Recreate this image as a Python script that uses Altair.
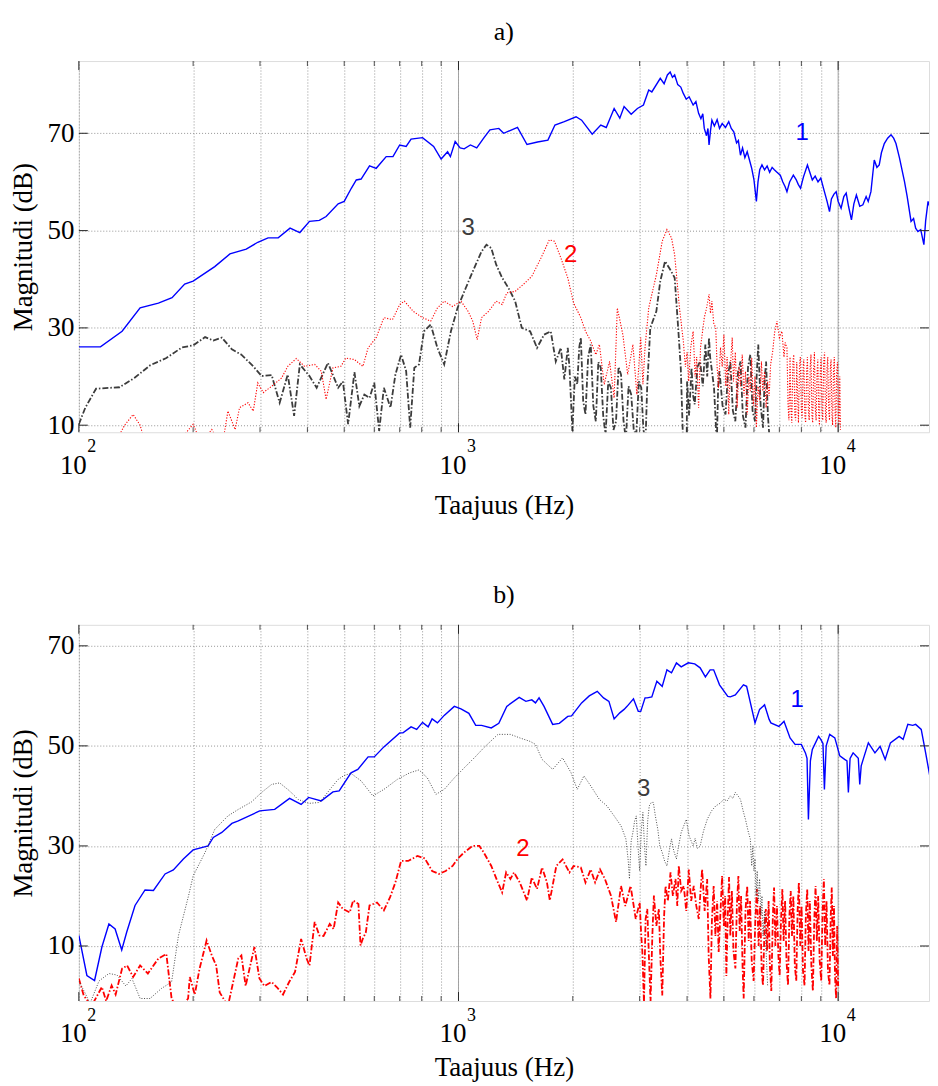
import altair as alt
import pandas as pd

# ---------------- data (frequency Hz, magnitude dB) ----------------
# Panel a) curve 1 (blue, solid)
A1 = [(100, 26.1), (114, 26.1), (130, 29.3), (145, 34.1), (162, 35.1), (176, 36.2), (190, 39.0),
      (200, 39.6), (228, 42.6), (250, 45.2), (276, 46.2), (296, 47.6), (315, 48.5), (335, 48.5),
      (360, 50.5), (382, 49.6), (405, 51.9), (430, 52.1), (448, 52.9), (482, 55.5), (500, 56.0),
      (522, 58.7), (538, 60.4), (554, 60.6), (583, 63.3), (607, 62.8), (645, 65.2), (672, 65.2),
      (700, 67.6), (728, 67.3), (750, 68.8), (804, 69.1), (860, 67.3), (900, 64.7), (936, 66.2),
      (952, 65.2), (980, 68.3), (1010, 67.0), (1035, 66.8), (1075, 67.6), (1117, 67.0), (1165, 69.0),
      (1210, 70.7), (1277, 71.0), (1315, 70.0), (1430, 71.2), (1515, 67.7), (1615, 68.2), (1720, 68.6),
      (1795, 71.7), (1900, 72.4), (2040, 73.4), (2110, 72.7), (2250, 69.8), (2370, 71.7), (2450, 71.2),
      (2570, 75.1), (2660, 73.1), (2730, 75.5), (2850, 73.9), (2960, 75.1), (3070, 75.8), (3170, 78.9),
      (3230, 78.5), (3400, 81.3), (3480, 80.2), (3550, 82.0), (3610, 82.6), (3660, 81.5), (3710, 82.0),
      (3780, 80.0), (3850, 79.5), (3910, 78.2), (3980, 77.0), (4050, 77.5), (4150, 75.8), (4220, 76.5),
      (4290, 74.1), (4350, 73.0), (4400, 74.0), (4440, 71.0), (4500, 69.5), (4540, 71.0), (4570, 67.6),
      (4610, 70.5), (4650, 72.7), (4720, 71.5), (4800, 72.8), (4870, 71.0), (4950, 72.0), (5050, 71.2),
      (5150, 72.4), (5230, 71.0), (5310, 70.3), (5400, 68.0), (5460, 68.5), (5530, 65.5), (5600, 67.0),
      (5680, 65.0), (5760, 66.2), (5840, 64.5), (5920, 62.8), (6000, 60.5), (6090, 56.0), (6150, 60.0),
      (6215, 62.5), (6300, 63.5), (6400, 62.5), (6500, 63.3), (6600, 62.0), (6700, 63.0), (6790, 62.5),
      (6900, 62.0), (7040, 61.4), (7150, 60.0), (7250, 59.0), (7330, 58.0), (7450, 60.0), (7620, 61.4),
      (7750, 60.5), (7850, 59.5), (7960, 58.7), (8100, 61.0), (8300, 63.5), (8420, 62.0), (8550, 60.4),
      (8700, 61.2), (8850, 60.0), (9000, 60.8), (9200, 58.0), (9350, 56.0), (9490, 53.9), (9600, 56.5),
      (9750, 57.5), (9880, 58.0), (10000, 56.0), (10180, 54.6), (10350, 57.0), (10500, 57.7),
      (10650, 55.0), (10840, 52.2), (11000, 55.5), (11170, 57.3), (11400, 55.0), (11620, 55.3),
      (11850, 57.0), (12000, 56.0), (12200, 58.0), (12350, 62.0), (12450, 64.5), (12650, 63.0),
      (12830, 63.5), (13000, 66.0), (13230, 67.9), (13500, 69.0), (13780, 69.7), (14000, 69.0),
      (14200, 67.9), (14500, 65.0), (14950, 60.1), (15200, 57.0), (15560, 51.9), (15800, 52.5),
      (16000, 50.5), (16220, 49.8), (16500, 50.2), (16820, 47.1), (17000, 52.0), (17250, 56.0),
      (17500, 54.5), (17790, 53.9), (18100, 52.0), (18500, 50.5)]

# Panel a) curve 3 (dark grey, dash-dot)
A3 = [(100, 10.2), (104, 13.6), (111, 17.5), (128, 17.8), (140, 19.7), (154, 22.3), (170, 23.8),
      (187, 26.0), (200, 26.4), (215, 28.1), (226, 27.4), (238, 28.0), (253, 25.6), (268, 24.5),
      (288, 22.1), (303, 20.1), (322, 20.3), (338, 14.6), (355, 20.4), (369, 11.9), (382, 22.5),
      (405, 20.1), (423, 17.7), (453, 22.8), (482, 17.7), (496, 19.0), (512, 10.2), (532, 20.9),
      (548, 13.9), (565, 16.3), (583, 15.6), (600, 18.7), (618, 8.8), (636, 17.7), (662, 13.6),
      (682, 20.4), (706, 24.5), (728, 21.1), (746, 9.5), (765, 21.8), (787, 22.5), (811, 29.3),
      (845, 30.7), (880, 25.9), (917, 22.5), (955, 29.3), (994, 34.1), (1045, 38.2), (1100, 42.3),
      (1150, 45.7), (1185, 47.1), (1220, 46.4), (1257, 43.0), (1303, 40.3), (1354, 38.2), (1410, 35.5),
      (1468, 30.0), (1544, 29.3), (1610, 25.9), (1680, 28.6), (1750, 29.3), (1804, 23.1), (1860, 25.9),
      (1900, 19.4), (1940, 25.9), (1960, 22.0), (1995, 8.8), (2025, 20.0), (2055, 18.4), (2080, 26.0),
      (2100, 28.0), (2130, 15.0), (2160, 12.2), (2195, 24.0), (2230, 26.6), (2265, 14.0), (2300, 10.8),
      (2335, 23.0), (2370, 21.8), (2405, 12.0), (2440, 8.0), (2480, 19.0), (2520, 17.7), (2560, 9.0),
      (2600, 10.8), (2640, 22.0), (2680, 20.4), (2720, 11.0), (2760, 7.0), (2805, 18.0), (2850, 16.3),
      (2895, 9.0), (2940, 8.0), (2985, 19.0), (3030, 17.7), (3070, 9.0), (3110, 7.0), (3140, 17.7),
      (3200, 30.0), (3320, 33.4), (3400, 39.6), (3500, 43.7), (3610, 42.0), (3710, 40.3), (3790, 30.0),
      (3850, 21.8), (3910, 5.0), (3990, 5.0), (4000, 19.0), (4050, 12.0), (4110, 21.8), (4150, 16.0),
      (4190, 14.3), (4260, 22.0), (4330, 23.1), (4400, 18.0), (4470, 26.6), (4520, 20.0), (4570, 28.0),
      (4600, 24.0), (4640, 21.8), (4710, 17.7), (4750, 12.0), (4790, 6.0), (4830, 18.0), (4870, 21.1),
      (4960, 14.0), (5050, 12.2), (5120, 20.0), (5200, 23.1), (5280, 13.0), (5360, 10.8), (5450, 21.0),
      (5530, 23.1), (5610, 12.0), (5700, 9.5), (5790, 22.0), (5870, 24.5), (5950, 13.0), (6040, 10.8),
      (6100, 20.0), (6160, 26.6), (6250, 14.0), (6340, 9.5), (6400, 19.0), (6460, 23.1), (6530, 12.0),
      (6600, 7.0)]

# Panel a) curve 2 (red, dotted)
A2 = [(124, 6.0), (132, 10.0), (139, 12.2), (145, 10.0), (150, 6.0), (185, 7.0), (200, 10.2),
      (208, 7.0), (218, 8.0), (224, 9.1), (232, 7.0), (240, 7.0), (247, 12.9), (258, 9.1), (265, 13.6),
      (279, 14.6), (288, 12.9), (296, 18.7), (306, 16.7), (322, 18.0), (342, 19.7), (355, 22.1),
      (374, 23.7), (393, 22.1), (418, 22.5), (435, 21.1), (448, 15.3), (467, 21.8), (490, 22.1),
      (505, 23.8), (532, 23.5), (560, 22.1), (578, 25.9), (607, 28.0), (636, 32.1), (670, 31.7),
      (700, 34.8), (720, 35.5), (760, 33.4), (804, 32.1), (845, 31.4), (880, 34.1), (917, 35.5),
      (965, 34.4), (1015, 35.5), (1060, 33.4), (1090, 31.4), (1120, 27.6), (1150, 32.1), (1200, 33.4),
      (1257, 35.5), (1303, 34.8), (1340, 37.2), (1410, 37.5), (1480, 38.9), (1560, 40.6), (1650, 44.4),
      (1735, 48.1), (1790, 47.8), (1860, 44.4), (1940, 40.3), (2010, 35.1), (2100, 32.1), (2160, 29.3),
      (2230, 27.3), (2300, 24.5), (2350, 26.6), (2420, 18.4), (2500, 23.1), (2570, 15.6), (2620, 34.1),
      (2710, 28.6), (2790, 20.4), (2880, 26.6), (2950, 16.3), (3020, 28.0), (3060, 18.4), (3100, 26.0),
      (3170, 34.1), (3320, 40.9), (3440, 47.8), (3540, 50.2), (3640, 48.5), (3710, 45.0), (3820, 34.1),
      (3910, 27.3), (3960, 22.0), (4000, 25.0), (4040, 19.0), (4090, 26.0), (4150, 29.3), (4200, 20.0),
      (4240, 24.0), (4290, 13.6), (4340, 26.0), (4390, 29.0), (4440, 32.1), (4500, 34.0), (4570, 36.9),
      (4610, 33.0), (4650, 35.5), (4700, 31.0), (4760, 30.0), (4800, 22.0), (4840, 17.7), (4900, 26.0),
      (4950, 22.0), (5000, 28.6), (5060, 18.0), (5100, 24.0), (5150, 12.2), (5200, 22.0), (5260, 28.0),
      (5300, 19.0), (5360, 25.0), (5420, 13.6), (5480, 22.0), (5530, 18.0), (5590, 24.5), (5650, 16.0),
      (5700, 21.0), (5760, 12.2), (5820, 20.0), (5870, 17.0), (5920, 23.8), (5980, 14.0), (6040, 20.0),
      (6090, 9.5), (6150, 18.0), (6220, 15.0), (6280, 23.1), (6330, 17.0), (6400, 21.0), (6460, 13.6),
      (6520, 19.0), (6580, 16.0), (6640, 22.5), (6720, 25.0), (6800, 29.0), (6900, 31.4), (7000, 28.0),
      (7110, 29.3), (7200, 24.0), (7250, 27.0), (7330, 25.9), (7380, 14.0), (7420, 11.0), (7470, 24.0),
      (7510, 13.0), (7550, 10.5), (7600, 23.0), (7640, 24.5), (7690, 12.0), (7730, 11.0), (7780, 23.0),
      (7820, 16.0), (7860, 10.5), (7910, 22.0), (7950, 24.0), (8000, 13.0), (8040, 11.5), (8090, 22.0),
      (8120, 23.5), (8170, 12.0), (8210, 10.5), (8260, 21.0), (8300, 24.0), (8350, 13.0), (8390, 11.0),
      (8440, 22.0), (8480, 24.5), (8530, 12.0), (8570, 10.5), (8620, 22.0), (8660, 25.0), (8710, 13.0),
      (8750, 11.0), (8800, 21.0), (8840, 23.5), (8890, 12.0), (8930, 10.0), (8980, 22.0), (9020, 24.0),
      (9070, 13.0), (9110, 11.0), (9160, 23.0), (9210, 25.0), (9260, 12.0), (9300, 10.5), (9350, 22.0),
      (9390, 24.0), (9440, 13.0), (9490, 11.0), (9540, 22.0), (9580, 23.5), (9630, 12.0), (9670, 10.0),
      (9720, 21.0), (9770, 24.0), (9820, 12.0), (9860, 9.5), (9910, 21.0), (9960, 23.0), (10010, 12.0),
      (10050, 10.0), (10100, 20.0), (10140, 9.0)]

# Panel b) curve 1 (blue, solid)
B1 = [(100, 12.1), (105, 4.1), (110, 3.1), (115, 9.8), (120, 14.4), (124.6, 13.4), (129.7, 9.2),
      (133.7, 12.8), (140.6, 18.1), (149.4, 21.2), (157.2, 21.1), (168.7, 24.4), (177.4, 25.2),
      (188.5, 27.4), (200, 29.2), (219, 30.0), (226, 31.7), (238, 32.7), (253, 34.5), (263, 35.0),
      (299.5, 37.0), (328, 37.3), (359, 39.5), (385, 38.3), (403, 39.7), (435, 39.0), (467, 40.8),
      (485, 41.0), (521, 44.6), (543, 45.3), (578, 47.8), (600, 47.8), (636, 49.8), (700, 52.6),
      (714, 52.6), (750, 53.8), (776, 53.3), (804, 54.7), (832, 53.8), (852, 55.4), (880, 54.6),
      (917, 56.1), (975, 57.9), (1015, 57.4), (1065, 56.5), (1110, 54.1), (1150, 54.1), (1220, 53.6),
      (1277, 54.5), (1340, 57.9), (1445, 59.7), (1505, 58.9), (1560, 59.2), (1595, 58.6), (1630, 59.6),
      (1680, 57.9), (1770, 54.3), (1843, 54.5), (1940, 55.9), (1985, 56.0), (2110, 58.6), (2210, 60.0),
      (2320, 60.9), (2410, 59.6), (2490, 58.9), (2570, 55.4), (2660, 56.6), (2730, 57.3), (2780, 57.9),
      (2890, 59.4), (2975, 56.9), (3020, 56.9), (3100, 59.6), (3140, 59.6), (3230, 59.8), (3330, 62.9),
      (3440, 61.9), (3540, 65.2), (3640, 64.6), (3750, 66.6), (3860, 65.8), (4030, 66.6), (4190, 66.4),
      (4330, 65.6), (4470, 63.8), (4600, 65.2), (4700, 65.2), (4870, 62.2), (5120, 59.9), (5200, 59.8),
      (5360, 60.2), (5630, 62.2), (5740, 61.9), (6040, 54.6), (6210, 57.3), (6400, 58.2), (6580, 55.3),
      (6650, 54.6), (6980, 53.9), (7200, 54.9), (7470, 51.6), (7700, 50.3), (8000, 50.3), (8200, 48.6),
      (8280, 47.5), (8350, 35.3), (8450, 47.0), (8550, 49.3), (8880, 51.9), (9000, 51.3), (9120, 50.5),
      (9200, 41.3), (9300, 50.0), (9500, 52.3), (9800, 51.6), (10100, 48.0), (10400, 47.3),
      (10550, 47.0), (10640, 40.7), (10750, 47.5), (10950, 48.6), (11300, 47.5), (11400, 42.3),
      (11500, 46.0), (11640, 47.3), (12010, 50.6), (12500, 48.6), (12900, 49.9), (13300, 47.3),
      (13730, 50.6), (14480, 51.9), (14830, 51.3), (15260, 54.3), (15720, 54.1), (16000, 54.3),
      (16550, 53.3), (17000, 48.6), (17500, 43.3), (17900, 41.3), (18300, 38.7)]

# Panel b) curve 2 (red, dash-dot)
B2 = [(100, 3.5), (103, 0.1), (108, -2.0), (115, 1.8), (118, -1.0), (122, 2.1), (125, 0.3), (130, 5.5),
      (134, 6.1), (139, 3.8), (145, 6.1), (152, 4.5), (162, 7.5), (170, 8.4), (175.5, -0.5), (183, -3.0),
      (194, -0.5), (196, 3.8), (202, 0.3), (208, 5.5), (217, 11.1), (224, 8.1), (230, 6.1), (235, 0.7),
      (247, -2.0), (263, 7.5), (268, 8.1), (275, 2.0), (290, 9.8), (299, 3.5), (308, 2.0), (322, 2.8),
      (332, 1.8), (345, 0.3), (358, 2.8), (371, 4.8), (385, 11.4), (398, 7.5), (405, 6.1), (418, 14.8),
      (430, 12.1), (441, 12.0), (458, 14.4), (469, 13.4), (482, 18.7), (496, 17.4), (517, 16.7),
      (528, 19.1), (545, 18.4), (552, 10.1), (560, 11.5), (570, 12.7), (583, 18.1), (610, 18.7),
      (636, 17.1), (660, 19.7), (682, 22.7), (706, 27.0), (737, 27.0), (780, 28.0), (815, 27.5),
      (852, 25.0), (888, 24.4), (925, 25.0), (965, 26.0), (994, 27.4), (1035, 28.7), (1088, 30.0),
      (1135, 30.0), (1165, 28.7), (1220, 26.0), (1270, 22.7), (1303, 20.7), (1335, 24.7), (1370, 23.4),
      (1400, 24.7), (1450, 22.7), (1515, 19.1), (1560, 23.7), (1610, 21.4), (1660, 25.7), (1710, 22.7),
      (1740, 19.1), (1810, 26.0), (1880, 27.3), (1960, 24.7), (2010, 26.0), (2100, 25.7), (2160, 22.7),
      (2230, 25.3), (2290, 22.7), (2360, 25.3), (2430, 23.4), (2520, 20.1), (2600, 14.8), (2680, 22.0),
      (2750, 18.0), (2840, 22.0), (2930, 15.4), (3000, 18.7), (3030, 12.0), (3050, 8.8), (3080, -1.5),
      (3110, 15.4), (3142, 17.4), (3170, 9.0), (3205, -1.1), (3240, 12.0), (3271, 20.1), (3320, 14.0),
      (3372, 17.4), (3400, 8.0), (3441, 0.1), (3480, 16.0), (3511, 22.0), (3560, 19.0), (3618, 24.7),
      (3670, 20.0), (3729, 23.4), (3770, 18.0), (3804, 26.0), (3860, 21.0), (3921, 22.0), (3980, 17.0),
      (4042, 25.3), (4100, 19.0), (4166, 22.0), (4230, 18.0), (4294, 15.4), (4340, 21.0), (4383, 25.3),
      (4450, 17.0), (4518, 23.4), (4560, 8.0), (4609, -0.5), (4650, 15.0), (4700, 22.0), (4750, 12.0),
      (4800, 19.0), (4845, 8.8), (4900, 17.0), (4946, 24.0), (5000, 14.0), (5040, 20.0), (5076, 4.0),
      (5120, 16.0), (5160, 23.8), (5200, 12.0), (5250, 21.0), (5300, 9.0), (5362, 5.5), (5410, 18.0),
      (5460, 24.0), (5503, 13.0), (5550, 20.0), (5600, 6.0), (5638, -0.5), (5700, 17.0), (5760, 22.0),
      (5812, 11.0), (5860, 19.0), (5920, 7.0), (5990, 3.0), (6050, 15.0), (6110, 21.4), (6173, 10.0),
      (6230, 18.0), (6290, 5.0), (6339, 2.1), (6400, 14.0), (6450, 17.4), (6494, 9.0), (6560, 19.0),
      (6610, 6.0), (6667, 1.0), (6730, 16.0), (6780, 21.7), (6832, 10.0), (6900, 18.0), (6960, 8.0),
      (7012, 4.0), (7070, 15.0), (7130, 21.4), (7184, 11.0), (7250, 19.0), (7310, 7.0), (7377, 2.1),
      (7440, 16.0), (7500, 21.0), (7557, 12.0), (7620, 20.0), (7690, 6.0), (7757, 3.0), (7820, 17.0),
      (7880, 22.7), (7947, 10.0), (8010, 18.0), (8080, 5.0), (8156, 2.1), (8220, 16.0), (8290, 21.4),
      (8356, 9.0), (8420, 19.0), (8500, 6.0), (8580, 1.0), (8650, 15.0), (8720, 22.0), (8790, 11.0),
      (8860, 20.0), (8940, 7.0), (9023, 3.0), (9100, 17.0), (9170, 23.4), (9244, 10.0), (9320, 19.0),
      (9400, 5.0), (9487, 2.1), (9560, 16.0), (9620, 21.7), (9683, 8.0), (9750, 18.0), (9810, 4.0),
      (9878, -0.5), (9940, 14.0), (10000, 2.0)]

# Panel b) curve 3 (grey, dotted)
B3 = [(100, 3.0), (104, 0.5), (107, -1.5), (113, 3.0), (120, 4.5), (126, 4.2), (133, 2.0), (138, 3.5),
      (145, -0.5), (154, -0.5), (165, 1.5), (175.5, 2.8), (183, 12.1), (194.6, 20.1), (200, 24.0),
      (215, 28.7), (228, 33.3), (247, 36.0), (263, 37.3), (285, 38.8), (303, 40.7), (322, 42.3),
      (338, 42.6), (359, 41.0), (378, 39.3), (403, 38.5), (431, 38.7), (463, 41.7), (482, 43.3),
      (500, 44.1), (521, 44.5), (554, 43.0), (595, 40.0), (636, 41.3), (690, 43.3), (743, 44.6),
      (787, 45.2), (828, 43.6), (872, 40.3), (917, 41.3), (975, 43.6), (1035, 45.6), (1110, 47.9),
      (1165, 49.6), (1270, 52.3), (1370, 52.3), (1450, 51.6), (1544, 50.9), (1595, 50.3), (1660, 47.3),
      (1770, 45.3), (1880, 47.6), (1980, 44.6), (2055, 41.3), (2140, 44.0), (2230, 42.0), (2350, 39.3),
      (2460, 38.0), (2570, 36.0), (2680, 34.0), (2760, 31.4), (2800, 27.0), (2820, 23.4), (2850, 31.0),
      (2880, 32.7), (2910, 35.0), (2940, 36.0), (2970, 30.0), (3000, 25.0), (3030, 33.0), (3060, 36.7),
      (3090, 30.0), (3117, 26.0), (3150, 35.0), (3180, 38.0), (3220, 38.7), (3260, 38.7), (3300, 36.0),
      (3350, 33.3), (3390, 30.0), (3440, 28.7), (3490, 27.0), (3540, 26.0), (3590, 29.0), (3640, 31.4),
      (3690, 29.0), (3750, 27.4), (3800, 30.0), (3860, 32.7), (3920, 34.0), (3980, 35.3), (4050, 32.0),
      (4100, 31.0), (4150, 30.0), (4200, 31.5), (4260, 29.5), (4330, 30.0), (4420, 33.0), (4520, 35.3),
      (4640, 37.0), (4760, 38.0), (4880, 38.5), (5000, 39.3), (5100, 39.0), (5200, 40.0), (5280, 39.5),
      (5360, 40.7), (5450, 40.0), (5530, 39.3), (5620, 37.0), (5700, 35.3), (5790, 33.0), (5870, 31.4),
      (5920, 26.0), (5960, 30.0), (6000, 25.0), (6040, 27.4), (6080, 20.0), (6120, 25.0), (6160, 19.0),
      (6210, 23.4), (6260, 16.0), (6300, 20.0), (6340, 12.0), (6400, 17.0), (6460, 8.8), (6520, 2.1)]

# curve number labels: (freq, dB, text)
A_LABELS = [(8040, 70.0, "1"), (1975, 45.0, "2"), (1060, 50.6, "3")]
B_LABELS = [(7800, 59.2, "1"), (1477, 29.3, "2"), (3073, 41.3, "3")]

X_GRID = [100, 200, 300, 400, 500, 600, 700, 800, 900, 1000, 2000, 3000, 4000, 5000,
          6000, 7000, 8000, 9000, 10000]
X_MAJOR = [100, 1000, 10000]
X_MINOR = [200, 300, 400, 500, 600, 700, 800, 900, 2000, 3000, 4000, 5000, 6000, 7000, 8000, 9000]
Y_TICKS = [10, 30, 50, 70]
EXPONENTS = ["2", "3", "4"]

X_DOMAIN = [100, 17350]
A_YDOMAIN = [8.55, 84.85]
B_YDOMAIN = [-1.0, 74.2]

# ---------------- styling ----------------
W = 852
SERIF = "'Liberation Serif', 'Times New Roman', Times, 'DejaVu Serif', serif"
SANS = "'Liberation Sans', Arial, Helvetica, sans-serif"
GRID = "#7a7a7a"


def df(pairs):
    return pd.DataFrame(pairs, columns=["f", "db"])


def panel(title, series, labels, ydom, h, xtitle_pad):
    xs = alt.Scale(type="log", domain=X_DOMAIN, nice=False)
    ys = alt.Scale(domain=ydom, nice=False, zero=False)
    xax = alt.Axis(values=X_GRID, grid=True, gridDash=[1, 2], gridColor=GRID, gridWidth=0.8,
                   ticks=False, domain=False, labelFlush=False, labelOverlap=False,
                   labelExpr="(datum.value == 100 || datum.value == 1000 || datum.value == 10000) ? '10' : ''",
                   labelOffset=-6, labelPadding=20, labelFont=SERIF, labelFontSize=27,
                   labelColor="black", title="Taajuus (Hz)", titleFont=SERIF, titleFontSize=27,
                   titleFontWeight="normal", titleColor="black", titlePadding=xtitle_pad)
    yax = alt.Axis(values=Y_TICKS, grid=True, gridDash=[1, 2], gridColor=GRID, gridWidth=0.8,
                   ticks=False, domain=False, labelPadding=5, labelFont=SERIF, labelFontSize=27,
                   labelColor="black", title="Magnitudi (dB)", titleFont=SERIF, titleFontSize=27,
                   titleFontWeight="normal", titleColor="black", titlePadding=9)
    X = alt.X("f:Q", scale=xs, axis=xax)
    Y = alt.Y("db:Q", scale=ys, axis=yax)

    layers = []
    # decade grid lines (solid, grey)
    layers.append(alt.Chart(pd.DataFrame({"f": X_MAJOR[1:]})).mark_rule(color="#9a9a9a", strokeWidth=0.9)
                  .encode(x=X, y=alt.value(0), y2=alt.value(h)))
    for pairs, color, dash, sw in series:
        kw = dict(color=color, strokeWidth=sw, clip=True)
        if dash:
            kw["strokeDash"] = dash
        layers.append(alt.Chart(df(pairs)).mark_line(**kw).encode(x=X, y=Y))
    # inward ticks, MATLAB style
    tick_col = "#262626"
    layers.append(alt.Chart(pd.DataFrame({"f": X_MAJOR})).mark_rule(color=tick_col, strokeWidth=1)
                  .encode(x=X, y=alt.value(h), y2=alt.value(h - 9)))
    layers.append(alt.Chart(pd.DataFrame({"f": X_MAJOR})).mark_rule(color=tick_col, strokeWidth=1)
                  .encode(x=X, y=alt.value(0), y2=alt.value(9)))
    layers.append(alt.Chart(pd.DataFrame({"f": X_MINOR})).mark_rule(color=tick_col, strokeWidth=0.8)
                  .encode(x=X, y=alt.value(h), y2=alt.value(h - 5)))
    layers.append(alt.Chart(pd.DataFrame({"f": X_MINOR})).mark_rule(color=tick_col, strokeWidth=0.8)
                  .encode(x=X, y=alt.value(0), y2=alt.value(5)))
    layers.append(alt.Chart(pd.DataFrame({"db": Y_TICKS})).mark_rule(color=tick_col, strokeWidth=1)
                  .encode(y=Y, x=alt.value(0), x2=alt.value(9)))
    layers.append(alt.Chart(pd.DataFrame({"db": Y_TICKS})).mark_rule(color=tick_col, strokeWidth=1)
                  .encode(y=Y, x=alt.value(W - 9), x2=alt.value(W)))
    # exponents of the 10^n tick labels
    layers.append(alt.Chart(pd.DataFrame({"f": X_MAJOR, "t": EXPONENTS}))
                  .mark_text(font=SERIF, fontSize=18, dx=13, align="center", baseline="middle", color="black")
                  .encode(x=X, y=alt.value(h + 15), text="t:N"))
    # curve numbers
    lab = pd.DataFrame(labels, columns=["f", "db", "t", "c"])
    layers.append(alt.Chart(lab).mark_text(font=SANS, fontSize=24, align="center", baseline="middle")
                  .encode(x=X, y=Y, text="t:N", color=alt.Color("c:N", scale=None)))

    return alt.layer(*layers).properties(
        width=W, height=h,
        title=alt.TitleParams(text=title, font=SERIF, fontSize=26, fontWeight="normal",
                              color="black", offset=16, anchor="middle"))


BLUE = "#0000ff"
RED = "#ff0000"
DARK = "#3c3c3c"

pa = panel("a)",
           [(A1, BLUE, None, 1.4), (A3, DARK, [6, 2, 1.5, 2], 1.8), (A2, RED, [1.2, 1.6], 1.1)],
           [(f, d, t, c) for (f, d, t), c in zip(A_LABELS, [BLUE, RED, DARK])],
           A_YDOMAIN, 372, 14)
pb = panel("b)",
           [(B1, BLUE, None, 1.4), (B2, RED, [6, 2, 1.5, 2], 1.8), (B3, "#3a3a3a", [1, 1.6], 0.9)],
           [(f, d, t, c) for (f, d, t), c in zip(B_LABELS, [BLUE, RED, DARK])],
           B_YDOMAIN, 377, 8)

chart = (alt.vconcat(pa, pb, spacing=63)
         .properties(padding={"left": 1, "top": 9, "right": 0, "bottom": 0})
         .configure_view(stroke="#262626", strokeWidth=1.2)
         .configure(background="white"))

chart.save("out.html", embed_options={"renderer": "svg", "actions": False})
